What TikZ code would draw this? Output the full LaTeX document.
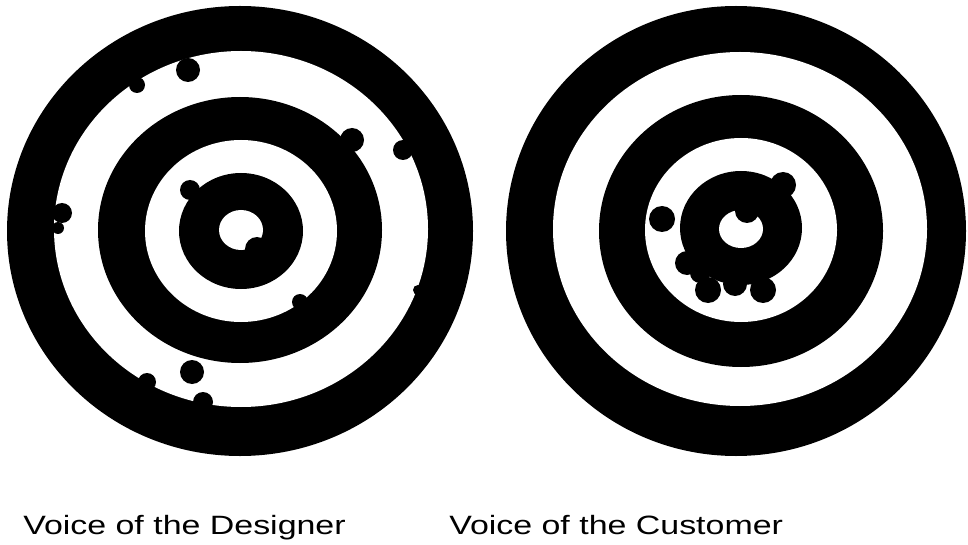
\documentclass[tikz,border=0pt]{standalone}
\usepackage{fontspec}
\setmainfont{Liberation Sans}
\usepackage{tikz}
\usetikzlibrary{positioning}

\begin{document}
\begin{tikzpicture}[
    x=1pt, y=-1pt,
    darkring/.style={fill=black},
    lightring/.style={fill=white},
    hit/.style={fill=black},
    caption/.style={anchor=base west, inner sep=0pt, xscale=1.28, font=\fontsize{26.5}{30}\selectfont}
]
\useasboundingbox (0,0) rectangle (968,545);

% Designer target
\foreach \cx/\cy/\rx/\ry/\sty in {240/231/233/225/darkring, 241/229/187/178/lightring,
    240/230/142/133/darkring, 241/231/96/91/lightring, 241/231/62/58/darkring, 241/230/22/20/lightring}
    \path[\sty] (\cx,\cy) circle[x radius=\rx, y radius=\ry];

% Designer hits
\foreach \hx/\hy/\hr in {188/70/12, 137/85/8, 352/140/12, 403/150/10, 62/213/10, 58/228/6,
    192/372/12, 147/382/9, 203/402/10, 300/302/8, 190/190/10, 418/290/5, 257/249/12}
    \path[hit] (\hx,\hy) circle[radius=\hr];

% Customer target
\foreach \cx/\cy/\rx/\ry/\sty in {736/231/230/225/darkring, 740/229/187/177/lightring,
    741/231/142/136/darkring, 741/230/96/92/lightring, 741/228/61/57/darkring, 741/229/22/19/lightring}
    \path[\sty] (\cx,\cy) circle[x radius=\rx, y radius=\ry];

% Customer hits
\foreach \hx/\hy/\hr in {662/219/13, 783/185/13, 708/290/13, 763/290/13, 735/284/12,
    687/263/12, 700/273/10, 747/211/12}
    \path[hit] (\hx,\hy) circle[radius=\hr];

% Captions
\node[caption] (designer) at (23,534) {Voice of the Designer};
\node[caption] (customer) at (449,534) {Voice of the Customer};

\end{tikzpicture}
\end{document}
